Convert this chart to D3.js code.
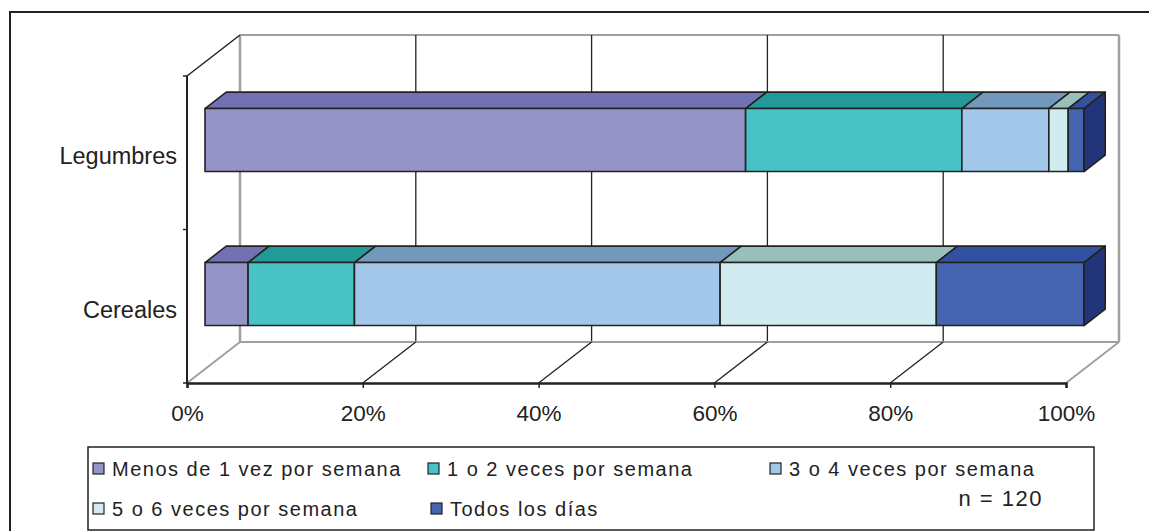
<!DOCTYPE html>
<html>
<head>
<meta charset="utf-8">
<script src="https://cdn.jsdelivr.net/npm/d3@7"></script>
<style>
  html, body { margin: 0; padding: 0; background: #fff; }
  svg { display: block; font-family: "Liberation Sans", Arial, sans-serif; }
</style>
</head>
<body>
<svg id="chart" width="1149" height="531"></svg>
<script>
// Frequency of consumption, percentage of respondents (n = 120)
const categories = ["Legumbres", "Cereales"];
const seriesNames = [
  "Menos de 1 vez por semana",
  "1 o 2 veces por semana",
  "3 o 4 veces por semana",
  "5 o 6 veces por semana",
  "Todos los días"
];
const legumbresValues = [61.5, 24.6, 9.9, 2.2, 1.8];
const cerealesValues  = [4.9, 12.1, 41.6, 24.6, 16.8];
const tickValues = [0, 20, 40, 60, 80, 100];
const sampleNote = "n = 120";

const frontColors = ["#9494c8", "#48c2c5", "#a2c7e9", "#d0ecf1", "#4564af"];
const topColors   = ["#7171b3", "#249a98", "#7299bd", "#97c0bd", "#3251a0"];
const sideColor   = "#23357a";

const valuesByCategory = { "Legumbres": legumbresValues, "Cereales": cerealesValues };

const svg = d3.select("#chart");

// Outer frame (left and top edges)
svg.append("path")
  .attr("d", "M10,531 L10,12 L1149,12")
  .attr("fill", "none").attr("stroke", "#222").attr("stroke-width", 2);

// Front-plane scales plus an oblique depth offset
const x = d3.scaleLinear().domain([0, 100]).range([187, 1066]);
const y = d3.scaleBand().domain(categories).range([77, 385]);
const axisTop = 76, axisBottom = 383;
const DX = 53, DY = -41;               // full depth of the plot box
const proj = (xv, yv, t) => [x(xv) + DX * t, yv + DY * t];
const line = d3.line();

const grid = svg.append("g");

// Back wall: top edge and vertical gridlines
grid.append("path")
  .attr("d", line([proj(0, axisTop, 1), proj(100, axisTop, 1)]))
  .attr("stroke", "#a0a0a0").attr("stroke-width", 2).attr("fill", "none");
tickValues.forEach(v => {
  const edge = v === 0 || v === 100;
  grid.append("path")
    .attr("d", line([proj(v, axisTop, 1), proj(v, axisBottom, 1)]))
    .attr("stroke", edge ? "#a0a0a0" : "#222").attr("stroke-width", edge ? 2.5 : 1.3)
    .attr("fill", "none");
});

// Floor: back edge and depth lines
grid.append("path")
  .attr("d", line([proj(0, axisBottom, 1), proj(100, axisBottom, 1)]))
  .attr("stroke", "#a0a0a0").attr("stroke-width", 2).attr("fill", "none");
tickValues.forEach(v => {
  const edge = v === 0 || v === 100;
  grid.append("path")
    .attr("d", line([proj(v, axisBottom, 0), proj(v, axisBottom, 1)]))
    .attr("stroke", edge ? "#a0a0a0" : "#222").attr("stroke-width", edge ? 2 : 1.3)
    .attr("fill", "none");
});

// Left wall top edge (depth line from the value axis top)
grid.append("path")
  .attr("d", line([proj(0, axisTop, 0), proj(0, axisTop, 1)]))
  .attr("stroke", "#222").attr("stroke-width", 1.5).attr("fill", "none");

// Bars: stacked 100% blocks occupying part of the depth
const t0 = 0.34, t1 = 0.74;
const barH = 63;
const bars = svg.append("g").attr("stroke", "#222").attr("stroke-width", 1.6)
  .attr("stroke-linejoin", "round");

categories.forEach(cat => {
  const vals = valuesByCategory[cat];
  const stacked = [];
  let acc = 0;
  vals.forEach((v, i) => { stacked.push({ i, a: acc, b: acc + v }); acc += v; });
  const yc = y(cat) + y.bandwidth() / 2;
  const yTop = yc - barH / 2, yBot = yc + barH / 2;
  const g = bars.append("g");

  stacked.forEach(s => {
    // top face
    g.append("path")
      .attr("d", line([proj(s.a, yTop, t0), proj(s.b, yTop, t0), proj(s.b, yTop, t1), proj(s.a, yTop, t1)]) + "Z")
      .attr("fill", topColors[s.i]);
    // front face
    g.append("path")
      .attr("d", line([proj(s.a, yTop, t0), proj(s.b, yTop, t0), proj(s.b, yBot, t0), proj(s.a, yBot, t0)]) + "Z")
      .attr("fill", frontColors[s.i]);
  });
  // right end face
  const last = stacked[stacked.length - 1];
  g.append("path")
    .attr("d", line([proj(last.b, yTop, t0), proj(last.b, yTop, t1), proj(last.b, yBot, t1), proj(last.b, yBot, t0)]) + "Z")
    .attr("fill", sideColor);
});

// Category axis (front left)
const catAxis = svg.append("g");
catAxis.append("path")
  .attr("d", line([[x(0), axisTop], [x(0), axisBottom]]))
  .attr("stroke", "#222").attr("stroke-width", 2).attr("fill", "none");
[axisTop, (axisTop + axisBottom) / 2, axisBottom].forEach(yy => {
  catAxis.append("path")
    .attr("d", line([[x(0) - 4, yy], [x(0), yy]]))
    .attr("stroke", "#222").attr("stroke-width", 1.5);
});
categories.forEach(cat => {
  catAxis.append("text")
    .attr("x", 177).attr("y", y(cat) + y.bandwidth() / 2 + 10)
    .attr("text-anchor", "end").attr("font-size", 23.5).attr("fill", "#222")
    .text(cat);
});

// Value axis (front floor edge)
const xAxis = d3.axisBottom(x)
  .tickValues(tickValues)
  .tickFormat(d => d + "%")
  .tickSize(5).tickPadding(17);
const xg = svg.append("g").attr("transform", `translate(0,${axisBottom})`).call(xAxis);
xg.select(".domain").attr("stroke", "#222").attr("stroke-width", 2.5);
xg.selectAll(".tick line").attr("stroke", "#222").attr("stroke-width", 1.5);
xg.selectAll(".tick text").attr("font-size", 22.5).attr("fill", "#222")
  .attr("font-family", "'Liberation Sans', Arial, sans-serif");

// Legend
const legend = svg.append("g");
legend.append("rect")
  .attr("x", 88).attr("y", 447).attr("width", 1006).attr("height", 83)
  .attr("fill", "#fff").attr("stroke", "#222").attr("stroke-width", 1.5);
const legendPos = [[93, 476], [428, 476], [770, 476], [93, 516], [431, 516]];
seriesNames.forEach((name, i) => {
  const [lx, ly] = legendPos[i];
  legend.append("rect")
    .attr("x", lx).attr("y", ly - 13).attr("width", 11).attr("height", 11)
    .attr("fill", frontColors[i]).attr("stroke", "#222").attr("stroke-width", 1.2);
  legend.append("text")
    .attr("x", lx + 19).attr("y", ly)
    .attr("font-size", 20).attr("letter-spacing", 1.5).attr("fill", "#222")
    .text(name);
});
legend.append("text")
  .attr("x", 1043).attr("y", 506).attr("text-anchor", "end")
  .attr("font-size", 22).attr("letter-spacing", 1.5).attr("fill", "#222")
  .text(sampleNote);
</script>
</body>
</html>
